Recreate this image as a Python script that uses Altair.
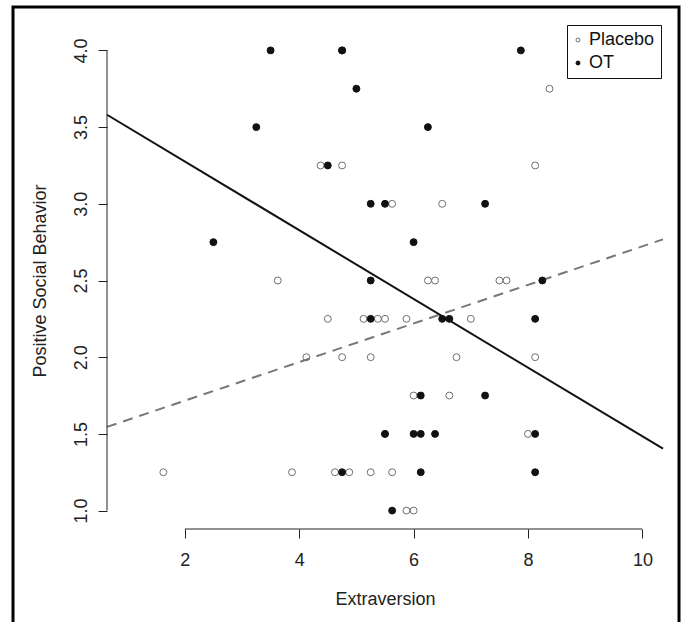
import altair as alt
import pandas as pd

FONT = "Liberation Sans"

# ---- data ----
placebo_x = [8.375, 4.375, 4.75, 8.125, 5.625, 6.5, 3.625, 6.25, 6.375, 7.5, 7.625,
             4.5, 5.125, 5.375, 5.5, 5.875, 7.0, 4.125, 4.75, 5.25, 6.75, 8.125,
             6.0, 6.625, 5.5, 8.0, 1.625, 3.875, 4.625, 4.875, 5.25, 5.625, 5.875, 6.0]
placebo_y = [3.75, 3.25, 3.25, 3.25, 3.0, 3.0, 2.5, 2.5, 2.5, 2.5, 2.5,
             2.25, 2.25, 2.25, 2.25, 2.25, 2.25, 2.0, 2.0, 2.0, 2.0, 2.0,
             1.75, 1.75, 1.5, 1.5, 1.25, 1.25, 1.25, 1.25, 1.25, 1.25, 1.0, 1.0]

ot_x = [3.5, 4.75, 4.75, 7.875, 5.0, 3.25, 6.25, 4.5, 5.25, 5.5, 7.25, 2.5, 6.0,
        5.25, 8.25, 5.25, 6.5, 6.625, 8.125, 6.125, 7.25, 5.5, 6.0, 6.125, 6.375,
        8.125, 4.75, 6.125, 8.125, 5.625]
ot_y = [4.0, 4.0, 4.0, 4.0, 3.75, 3.5, 3.5, 3.25, 3.0, 3.0, 3.0, 2.75, 2.75,
        2.5, 2.5, 2.25, 2.25, 2.25, 2.25, 1.75, 1.75, 1.5, 1.5, 1.5, 1.5,
        1.5, 1.25, 1.25, 1.25, 1.0]

groups = ["Placebo", "OT"]
# fitted lines (intercept, slope)
ot_intercept, ot_slope = 3.724, -0.224
placebo_intercept, placebo_slope = 1.465, 0.1258

x_ticks = [2, 4, 6, 8, 10]
y_ticks = [1.0, 1.5, 2.0, 2.5, 3.0, 3.5, 4.0]
x_domain = [0.64, 10.36]
y_domain = [0.88, 4.12]

# ---- tables ----
pts = pd.DataFrame({
    "Extraversion": placebo_x + ot_x,
    "Behavior": placebo_y + ot_y,
    "Condition": ["Placebo"] * len(placebo_x) + ["OT"] * len(ot_x),
})

def line_df(a, b):
    return pd.DataFrame({"Extraversion": x_domain,
                         "Behavior": [a + b * x for x in x_domain]})

ot_line = line_df(ot_intercept, ot_slope)
pl_line = line_df(placebo_intercept, placebo_slope)

W, H = 556, 497
xs = alt.Scale(domain=x_domain, nice=False, zero=False)
ys = alt.Scale(domain=y_domain, nice=False, zero=False)

x_axis = alt.Axis(values=x_ticks, format="d", title="Extraversion",
                  titleX=W / 2, titleY=75, titleAlign="center", titleBaseline="alphabetic",
                  labelBaseline="alphabetic", labelPadding=27, tickSize=9,
                  labelFlush=False, labelOverlap=False)
y_axis = alt.Axis(values=y_ticks, format=".1f", title="Positive Social Behavior",
                  labelAngle=270, labelAlign="center", labelBaseline="alphabetic",
                  labelPadding=12, tickSize=9,
                  titleAngle=270, titleX=-62, titleY=H / 2, titleAlign="center",
                  titleBaseline="alphabetic", labelFlush=False, labelOverlap=False)

X = alt.X("Extraversion:Q", scale=xs, axis=x_axis, title="Extraversion")
Y = alt.Y("Behavior:Q", scale=ys, axis=y_axis, title="Positive Social Behavior")

legend = alt.Legend(title=None, orient="none", legendX=460, legendY=-7,
                    symbolType="circle", symbolSize=16, symbolStrokeWidth=1,
                    symbolOffset=-4, labelOffset=2, rowPadding=5, padding=6,
                    labelFont=FONT, labelFontSize=18, labelColor="#111111",
                    strokeColor="#111111", fillColor="white")

points = alt.Chart(pts).mark_point(size=48, strokeWidth=1, opacity=1, shape="circle").encode(
    x=X, y=Y,
    stroke=alt.Stroke("Condition:N", scale=alt.Scale(domain=groups, range=["#707070", "#111111"]),
                      legend=legend),
    fill=alt.Fill("Condition:N", scale=alt.Scale(domain=groups, range=["transparent", "#111111"]),
                  legend=legend),
)

ot_l = alt.Chart(ot_line).mark_line(color="#111111", strokeWidth=2).encode(x=X, y=Y)
pl_l = alt.Chart(pl_line).mark_line(color="#777777", strokeWidth=2, strokeDash=[10, 7]).encode(x=X, y=Y)

one = pd.DataFrame({"k": [0]})
x_axis_line = alt.Chart(one).mark_rule(color="#222222", strokeWidth=1).encode(
    x=alt.X(datum=x_ticks[0], scale=xs, title="Extraversion"),
    x2=alt.X2(datum=x_ticks[-1]),
    y=alt.Y(datum=y_domain[0], scale=ys, title="Positive Social Behavior"),
)
y_axis_line = alt.Chart(one).mark_rule(color="#222222", strokeWidth=1).encode(
    x=alt.X(datum=x_domain[0], scale=xs, title="Extraversion"),
    y=alt.Y(datum=y_ticks[0], scale=ys, title="Positive Social Behavior"),
    y2=alt.Y2(datum=y_ticks[-1]),
)

frame = alt.Chart(one).mark_rect(fillOpacity=0, stroke="#000000", strokeWidth=3).encode(
    x=alt.value(-94), x2=alt.value(572), y=alt.value(-25), y2=alt.value(650)
)

chart = alt.layer(frame, pl_l, ot_l, points, x_axis_line, y_axis_line).properties(
    width=W, height=H,
    padding={"left": 107, "top": 32, "right": 23, "bottom": 93},
    autosize=alt.AutoSizeParams(type="none"),
    background="white",
).configure_view(strokeWidth=0).configure_axis(
    grid=False, domain=False, tickColor="#222222", tickWidth=1,
    labelFont=FONT, labelFontSize=18, labelColor="#222222",
    titleFont=FONT, titleFontSize=18, titleColor="#222222", titleFontWeight="normal",
).configure_legend(strokeWidth=1)

chart.save("out.html", embed_options={"renderer": "svg", "actions": False})
